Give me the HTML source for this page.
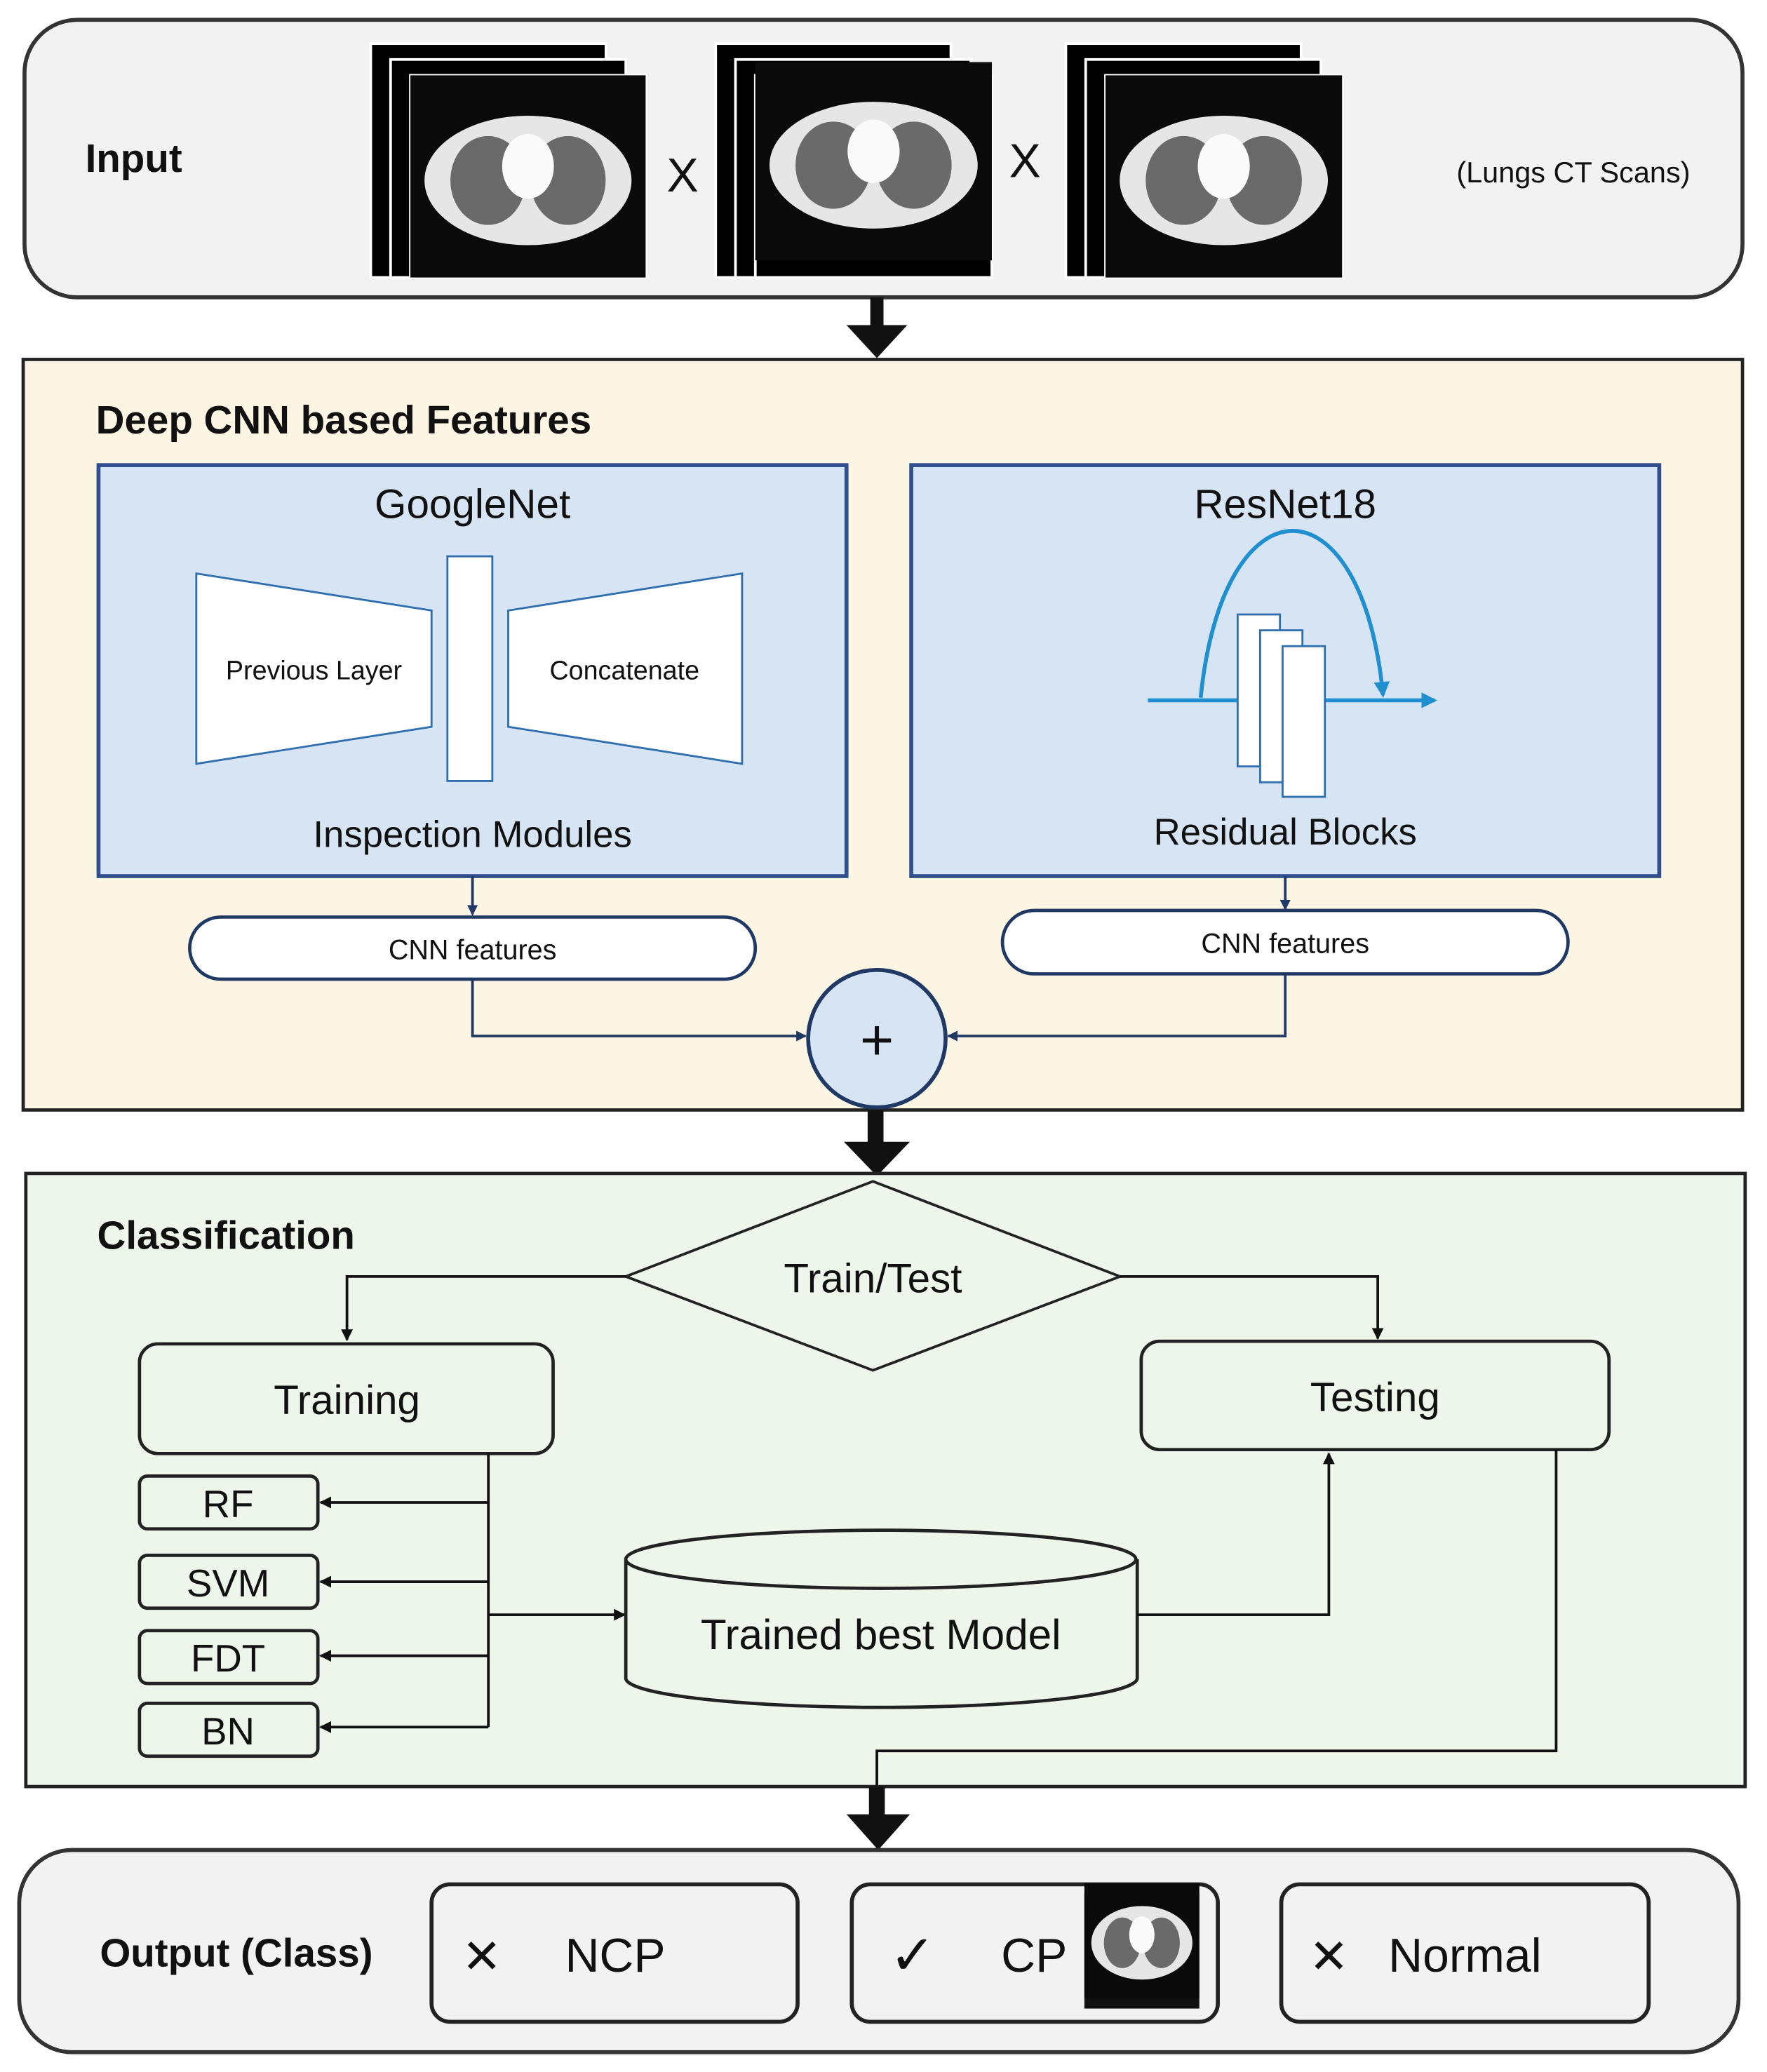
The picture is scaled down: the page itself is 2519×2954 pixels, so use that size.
<!DOCTYPE html>
<html><head><meta charset="utf-8"><style>
html,body{margin:0;padding:0;background:#fff}
svg{display:block}
text{font-family:"Liberation Sans","DejaVu Sans",sans-serif;fill:#111}
</style></head><body>
<svg width="2519" height="2954" viewBox="0 0 1336 1568" xmlns="http://www.w3.org/2000/svg">
<defs>
<marker id="ab" markerWidth="8" markerHeight="8" refX="7" refY="4" orient="auto" markerUnits="userSpaceOnUse"><path d="M0,0 L8,4 L0,8 z" fill="#1f3864"/></marker>
<marker id="ak" markerWidth="9" markerHeight="9" refX="8" refY="4.5" orient="auto" markerUnits="userSpaceOnUse"><path d="M0,0 L9,4.5 L0,9 z" fill="#111"/></marker>
<marker id="al" markerWidth="12" markerHeight="12" refX="10" refY="6" orient="auto" markerUnits="userSpaceOnUse"><path d="M0,0 L12,6 L0,12 z" fill="#1f8fd0"/></marker>
<g id="ct">
<rect x="0" y="0" width="100" height="100" fill="#0a0a0a"/>
<ellipse cx="50" cy="52" rx="44" ry="32" fill="#e6e6e6"/>
<ellipse cx="33" cy="52" rx="16" ry="22" fill="#6a6a6a"/>
<ellipse cx="67" cy="52" rx="16" ry="22" fill="#6a6a6a"/>
<ellipse cx="50" cy="45" rx="11" ry="16" fill="#fafafa"/>
</g>
</defs>

<rect x="18" y="15" width="1300" height="210" rx="40" fill="#f2f2f2" stroke="#333" stroke-width="3"/>
<text x="64" y="130" font-size="30" font-weight="bold">Input</text>
<g>
<rect x="280" y="33" width="178" height="177" fill="#000" stroke="#fff" stroke-width="2"/>
<rect x="295" y="45" width="178" height="165" fill="#000" stroke="#fff" stroke-width="2"/>
<rect x="310" y="57" width="178" height="153" fill="#000" stroke="#fff" stroke-width="2"/>
<use href="#ct" transform="translate(310,57) scale(1.78,1.53)"/>
<rect x="541" y="33" width="178" height="177" fill="#000" stroke="#fff" stroke-width="2"/>
<rect x="556" y="45" width="178" height="165" fill="#000" stroke="#fff" stroke-width="2"/>
<rect x="571" y="57" width="179" height="153" fill="#000" stroke="#fff" stroke-width="2"/>
<use href="#ct" transform="translate(571,47) scale(1.79,1.5)"/>
<rect x="806" y="33" width="178" height="177" fill="#000" stroke="#fff" stroke-width="2"/>
<rect x="821" y="45" width="178" height="165" fill="#000" stroke="#fff" stroke-width="2"/>
<rect x="836" y="57" width="179" height="153" fill="#000" stroke="#fff" stroke-width="2"/>
<use href="#ct" transform="translate(836,57) scale(1.79,1.53)"/>
</g>
<text x="516" y="145" font-size="36" text-anchor="middle">X</text>
<text x="775" y="134" font-size="36" text-anchor="middle">X</text>
<text x="1190" y="138" font-size="22" text-anchor="middle">(Lungs CT Scans)</text>

<rect x="658" y="225" width="10" height="25" fill="#111"/>
<path d="M640,246 L686,246 L663,271 z" fill="#111"/>

<rect x="17" y="272" width="1301" height="568" fill="#fdf5e4" stroke="#222" stroke-width="2.5"/>
<text x="72" y="328" font-size="30" font-weight="bold">Deep CNN based Features</text>
<rect x="74" y="352" width="566" height="311" fill="#d6e4f4" stroke="#2f4f8f" stroke-width="3"/>
<text x="357" y="392" font-size="31" text-anchor="middle">GoogleNet</text>
<path d="M148,434 L326,462 L326,550 L148,578 z" fill="#fff" stroke="#2f6fb0" stroke-width="1.5"/>
<rect x="338" y="421" width="34" height="170" fill="#fff" stroke="#2f6fb0" stroke-width="1.5"/>
<path d="M384,462 L561,434 L561,578 L384,550 z" fill="#fff" stroke="#2f6fb0" stroke-width="1.5"/>
<text x="237" y="514" font-size="20" text-anchor="middle">Previous Layer</text>
<text x="472" y="514" font-size="20" text-anchor="middle">Concatenate</text>
<text x="357" y="641" font-size="28" text-anchor="middle">Inspection Modules</text>

<rect x="689" y="352" width="566" height="311" fill="#d6e4f4" stroke="#2f4f8f" stroke-width="3"/>
<text x="972" y="392" font-size="31" text-anchor="middle">ResNet18</text>
<line x1="868" y1="530" x2="1085" y2="530" stroke="#1f8fd0" stroke-width="3" marker-end="url(#al)"/>
<path d="M908,528 C925,360 1030,360 1046,526" fill="none" stroke="#1f8fd0" stroke-width="3" marker-end="url(#al)"/>
<rect x="936" y="465" width="32" height="115" fill="#fff" stroke="#2f6fb0" stroke-width="1.5"/>
<rect x="953" y="477" width="32" height="115" fill="#fff" stroke="#2f6fb0" stroke-width="1.5"/>
<rect x="970" y="489" width="32" height="114" fill="#fff" stroke="#2f6fb0" stroke-width="1.5"/>
<text x="972" y="639" font-size="28" text-anchor="middle">Residual Blocks</text>

<line x1="357" y1="663" x2="357" y2="692" stroke="#1f3864" stroke-width="2" marker-end="url(#ab)"/>
<line x1="972" y1="663" x2="972" y2="688" stroke="#1f3864" stroke-width="2" marker-end="url(#ab)"/>
<rect x="143" y="694" width="428" height="47" rx="23.5" fill="#fff" stroke="#1f3864" stroke-width="2.5"/>
<text x="357" y="726" font-size="21" text-anchor="middle">CNN features</text>
<rect x="758" y="689" width="428" height="48" rx="24" fill="#fff" stroke="#1f3864" stroke-width="2.5"/>
<text x="972" y="721" font-size="21" text-anchor="middle">CNN features</text>
<path d="M357,741 L357,784 L609,784" fill="none" stroke="#1f3864" stroke-width="2" marker-end="url(#ab)"/>
<path d="M972,737 L972,784 L717,784" fill="none" stroke="#1f3864" stroke-width="2" marker-end="url(#ab)"/>
<circle cx="663" cy="786" r="52" fill="#d6e4f4" stroke="#1f3864" stroke-width="3"/>
<text x="663" y="802" font-size="44" text-anchor="middle">+</text>

<rect x="656" y="840" width="12" height="28" fill="#111"/>
<path d="M638,864 L688,864 L663,890 z" fill="#111"/>

<rect x="19" y="888" width="1301" height="464" fill="#eef5ea" stroke="#222" stroke-width="2.5"/>
<text x="73" y="945" font-size="30" font-weight="bold">Classification</text>
<path d="M473,966 L660,894 L847,966 L660,1037 z" fill="#eef5ea" stroke="#222" stroke-width="2"/>
<text x="660" y="978" font-size="31" text-anchor="middle">Train/Test</text>
<path d="M473,966 L262,966 L262,1014" fill="none" stroke="#111" stroke-width="2" marker-end="url(#ak)"/>
<path d="M847,966 L1042,966 L1042,1013" fill="none" stroke="#111" stroke-width="2" marker-end="url(#ak)"/>
<rect x="105" y="1017" width="313" height="83" rx="14" fill="#eef5ea" stroke="#222" stroke-width="2.5"/>
<text x="262" y="1070" font-size="31" text-anchor="middle">Training</text>
<rect x="863" y="1015" width="354" height="82" rx="14" fill="#eef5ea" stroke="#222" stroke-width="2.5"/>
<text x="1040" y="1068" font-size="31" text-anchor="middle">Testing</text>

<rect x="105" y="1117" width="135" height="40" rx="6" fill="#eef5ea" stroke="#222" stroke-width="2.5"/>
<text x="172" y="1148" font-size="29" text-anchor="middle">RF</text>
<rect x="105" y="1177" width="135" height="40" rx="6" fill="#eef5ea" stroke="#222" stroke-width="2.5"/>
<text x="172" y="1208" font-size="29" text-anchor="middle">SVM</text>
<rect x="105" y="1234" width="135" height="40" rx="6" fill="#eef5ea" stroke="#222" stroke-width="2.5"/>
<text x="172" y="1265" font-size="29" text-anchor="middle">FDT</text>
<rect x="105" y="1289" width="135" height="40" rx="6" fill="#eef5ea" stroke="#222" stroke-width="2.5"/>
<text x="172" y="1320" font-size="29" text-anchor="middle">BN</text>
<line x1="369" y1="1100" x2="369" y2="1307" stroke="#111" stroke-width="2"/>
<line x1="369" y1="1137" x2="242" y2="1137" stroke="#111" stroke-width="2" marker-end="url(#ak)"/>
<line x1="369" y1="1197" x2="242" y2="1197" stroke="#111" stroke-width="2" marker-end="url(#ak)"/>
<line x1="369" y1="1253" x2="242" y2="1253" stroke="#111" stroke-width="2" marker-end="url(#ak)"/>
<line x1="369" y1="1307" x2="242" y2="1307" stroke="#111" stroke-width="2" marker-end="url(#ak)"/>
<line x1="369" y1="1222" x2="472" y2="1222" stroke="#111" stroke-width="2" marker-end="url(#ak)"/>

<path d="M473,1180 L473,1270 A193,22 0 0 0 860,1270 L860,1180" fill="#eef5ea" stroke="#222" stroke-width="2.5"/>
<ellipse cx="666" cy="1180" rx="193" ry="22" fill="#eef5ea" stroke="#222" stroke-width="2.5"/>
<text x="666" y="1248" font-size="32" text-anchor="middle">Trained best Model</text>
<path d="M860,1222 L1005,1222 L1005,1100" fill="none" stroke="#111" stroke-width="2" marker-end="url(#ak)"/>
<path d="M1177,1097 L1177,1325 L663,1325 L663,1352" fill="none" stroke="#111" stroke-width="2"/>

<rect x="657" y="1352" width="12" height="24" fill="#111"/>
<path d="M640,1373 L688,1373 L664,1400 z" fill="#111"/>

<rect x="14" y="1400" width="1301" height="153" rx="40" fill="#f2f2f2" stroke="#333" stroke-width="3"/>
<text x="75" y="1488" font-size="30" font-weight="bold">Output (Class)</text>
<rect x="326" y="1426" width="277" height="104" rx="14" fill="#f2f2f2" stroke="#222" stroke-width="3"/>
<text x="364" y="1493" font-size="36" text-anchor="middle">✕</text>
<text x="465" y="1492" font-size="36" text-anchor="middle">NCP</text>
<rect x="644" y="1426" width="277" height="104" rx="14" fill="#f2f2f2" stroke="#222" stroke-width="3"/>
<text x="690" y="1494" font-size="42" text-anchor="middle">✓</text>
<text x="782" y="1492" font-size="36" text-anchor="middle">CP</text>
<rect x="820" y="1433" width="87" height="87" fill="#111"/>
<use href="#ct" transform="translate(820,1425) scale(0.87,0.87)"/>
<rect x="969" y="1426" width="278" height="104" rx="14" fill="#f2f2f2" stroke="#222" stroke-width="3"/>
<text x="1005" y="1493" font-size="36" text-anchor="middle">✕</text>
<text x="1108" y="1492" font-size="36" text-anchor="middle">Normal</text>
</svg>
</body></html>
